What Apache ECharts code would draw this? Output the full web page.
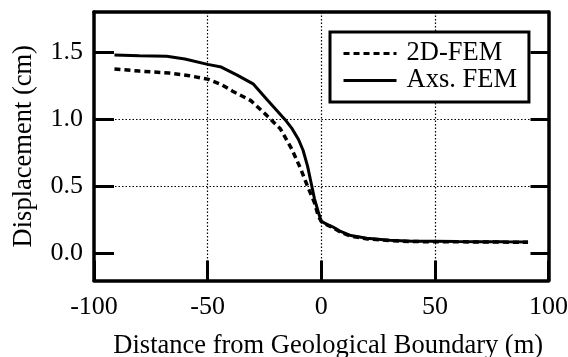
<!DOCTYPE html>
<html>
<head>
<meta charset="utf-8">
<script src="https://cdn.jsdelivr.net/npm/echarts@6/dist/echarts.min.js"></script>
<style>
html,body{margin:0;padding:0;background:#fff;}
#chart{width:568px;height:357px;}
</style>
</head>
<body>
<div id="chart"></div>
<script>
// ---- data ----
var seriesNames = ['2D-FEM', 'Axs. FEM'];
var xTicks = [-100, -50, 0, 50, 100];
var yTicks = [0, 0.5, 1.0, 1.5];
var fem2dX = [-91, -80, -67, -58, -50, -44, -39, -31, -24, -18, -13, -9, -6, -3, -1.3, 0, 3, 5, 8, 13, 20, 30, 40, 50, 60, 70, 80, 91];
var fem2dY = [1.375, 1.36, 1.345, 1.325, 1.3, 1.26, 1.21, 1.14, 1.03, 0.93, 0.78, 0.63, 0.50, 0.38, 0.28, 0.24, 0.21, 0.195, 0.165, 0.13, 0.11, 0.097, 0.09, 0.089, 0.088, 0.087, 0.086, 0.085];
var axsX = [-91, -80, -68, -60, -50, -44, -37, -30, -24, -16, -13, -10, -8, -6, -4.5, -3, -1.3, 0, 3, 5, 8, 13, 20, 30, 40, 50, 60, 70, 80, 91];
var axsY = [1.48, 1.475, 1.47, 1.45, 1.41, 1.39, 1.33, 1.265, 1.15, 1.0, 0.935, 0.85, 0.77, 0.65, 0.53, 0.41, 0.31, 0.24, 0.215, 0.2, 0.17, 0.135, 0.115, 0.1, 0.093, 0.092, 0.09, 0.089, 0.088, 0.087];

function pairs(xs, ys) { return xs.map(function (x, i) { return [x, ys[i]]; }); }

var font = 'Liberation Serif';
var chart = echarts.init(document.getElementById('chart'), null, {renderer: 'canvas'});
chart.setOption({
  backgroundColor: '#fff',
  animation: false,
  grid: {left: 94, right: 19.5, top: 12, bottom: 76.5, containLabel: false, outerBoundsMode: 'none'},
  legend: {
    orient: 'vertical',
    left: 330, top: 32,
    data: seriesNames,
    itemWidth: 53, itemHeight: 6, itemGap: 0,
    padding: [8, 12, 8, 12],
    borderColor: '#000', borderWidth: 3, borderRadius: 0,
    backgroundColor: '#fff',
    itemStyle: {color: 'rgba(0,0,0,0)', borderWidth: 0, opacity: 0},
    lineStyle: {width: 3},
    textStyle: {fontFamily: font, fontSize: 26.5, color: '#000', lineHeight: 25, padding: [0, 0, 0, 5]},
    inactiveColor: '#000'
  },
  xAxis: [{
    type: 'value', min: xTicks[0], max: xTicks[xTicks.length - 1], interval: 50,
    position: 'bottom',
    name: 'Distance from Geological Boundary (m)',
    nameLocation: 'middle', nameGap: 52,
    nameTextStyle: {fontFamily: font, fontSize: 26.5, color: '#000', padding: [0, 0, 0, 14]},
    axisLine: {show: true, onZero: false, lineStyle: {color: '#000', width: 3.5}},
    axisTick: {show: true, inside: true, length: 20, lineStyle: {color: '#000', width: 3}},
    axisLabel: {fontFamily: font, fontSize: 26, color: '#000', margin: 14},
    splitLine: {show: true, showMinLine: false, showMaxLine: false, lineStyle: {color: '#000', width: 1.2, type: [1.5, 2]}}
  }, {
    type: 'value', min: xTicks[0], max: xTicks[xTicks.length - 1], interval: 50,
    position: 'top',
    axisLine: {show: true, onZero: false, lineStyle: {color: '#000', width: 3.5}},
    axisTick: {show: false}, axisLabel: {show: false}, splitLine: {show: false}
  }],
  yAxis: [{
    type: 'value', min: -0.2, max: 1.8,
    position: 'left',
    name: 'Displacement (cm)',
    nameLocation: 'middle', nameGap: 56,
    nameTextStyle: {fontFamily: font, fontSize: 26.5, color: '#000'},
    axisLine: {show: true, onZero: false, lineStyle: {color: '#000', width: 3.5}},
    axisTick: {show: true, inside: true, length: 20, customValues: yTicks, lineStyle: {color: '#000', width: 3}},
    axisLabel: {fontFamily: font, fontSize: 26, color: '#000', margin: 11, customValues: yTicks,
      formatter: function (v) { return v.toFixed(1); }},
    splitLine: {show: true, showMinLine: false, showMaxLine: false, lineStyle: {color: '#000', width: 1.2, type: [1.5, 2]}}
  }, {
    type: 'value', min: -0.2, max: 1.8,
    position: 'right',
    axisLine: {show: true, onZero: false, lineStyle: {color: '#000', width: 3.5}},
    axisTick: {show: true, inside: true, length: 18, customValues: yTicks, lineStyle: {color: '#000', width: 3}},
    axisLabel: {show: false}, splitLine: {show: false}
  }],
  series: [{
    name: seriesNames[0], type: 'line', data: pairs(fem2dX, fem2dY),
    symbol: 'none', smooth: false, z: 3,
    lineStyle: {color: '#000', width: 3.5, type: [6, 4]},
    itemStyle: {color: '#000'}
  }, {
    name: seriesNames[1], type: 'line', data: pairs(axsX, axsY),
    symbol: 'none', smooth: false, z: 4,
    lineStyle: {color: '#000', width: 3, type: 'solid'},
    itemStyle: {color: '#000'}
  }]
});
</script>
</body>
</html>
